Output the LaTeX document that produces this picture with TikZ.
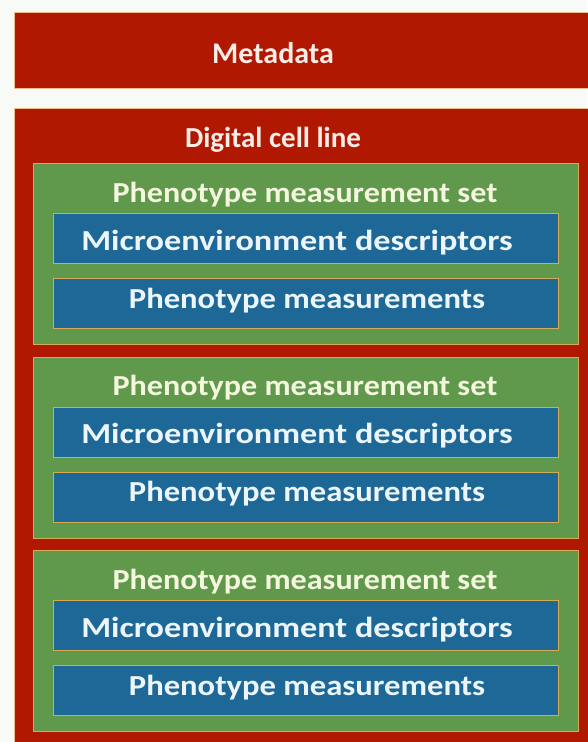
\documentclass[tikz,border=0pt]{standalone}
\usepackage{fontspec}
\setmainfont{Carlito}
\definecolor{bgpage}{RGB}{248,250,247}
\definecolor{redfill}{RGB}{176,24,2}
\definecolor{greenfill}{RGB}{96,152,76}
\definecolor{bluefill}{RGB}{30,104,152}
\definecolor{edgegold}{RGB}{214,170,80}
\definecolor{edgepeach}{RGB}{240,190,140}
\definecolor{creamtext}{RGB}{244,246,222}
\definecolor{icetext}{RGB}{236,246,250}
\definecolor{pinktext}{RGB}{250,236,230}
\tikzset{
  x=1pt, y=-1pt,
  boxbase/.style={anchor=north west, inner sep=0pt, line width=1.3pt},
  redbox/.style={boxbase, fill=redfill, draw=edgepeach},
  setbox/.style={boxbase, fill=greenfill, draw=edgegold, minimum width=545pt, minimum height=181pt},
  itembox/.style={boxbase, fill=bluefill, draw=edgegold, minimum width=505pt, minimum height=50pt},
  label/.style={anchor=base, inner sep=0pt, font=\bfseries\fontsize{29}{32}\selectfont},
  headlabel/.style={label, text=pinktext},
  setlabel/.style={label, text=creamtext},
  itemlabel/.style={label, text=icetext}
}
\begin{document}
\begin{tikzpicture}
\fill[bgpage] (0,0) rectangle (587,742);
\useasboundingbox (0,0) rectangle (587,742);

% top-level records
\node[redbox, minimum width=580pt, minimum height=76pt] (meta) at (14,12) {};
\node[headlabel, font=\bfseries\fontsize{30}{32}\selectfont] (metaT) at (273,63) {Metadata};
\node[redbox, minimum width=580pt, minimum height=645pt] (cell) at (14,108) {};
\node[headlabel] (cellT) at (273,147) {Digital cell line};

% three measurement sets, each with two entries
\foreach \i/\t in {1/163,2/356.5,3/550}{
  \node[setbox] (set\i) at (33,\t) {};
  \node[setlabel] (set\i T) at (305,\t+39) {\scalebox{1.107}[1]{Phenotype measurement set}};
  \node[itembox] (env\i) at (53,\t+50) {};
  \node[itemlabel] (env\i T) at (297,\t+87) {\scalebox{1.18}[1]{Microenvironment descriptors}};
  \node[itembox] (meas\i) at (53,\t+115) {};
  \node[itemlabel] (meas\i T) at (307,\t+145) {\scalebox{1.125}[1]{Phenotype measurements}};
}
\end{tikzpicture}
\end{document}
